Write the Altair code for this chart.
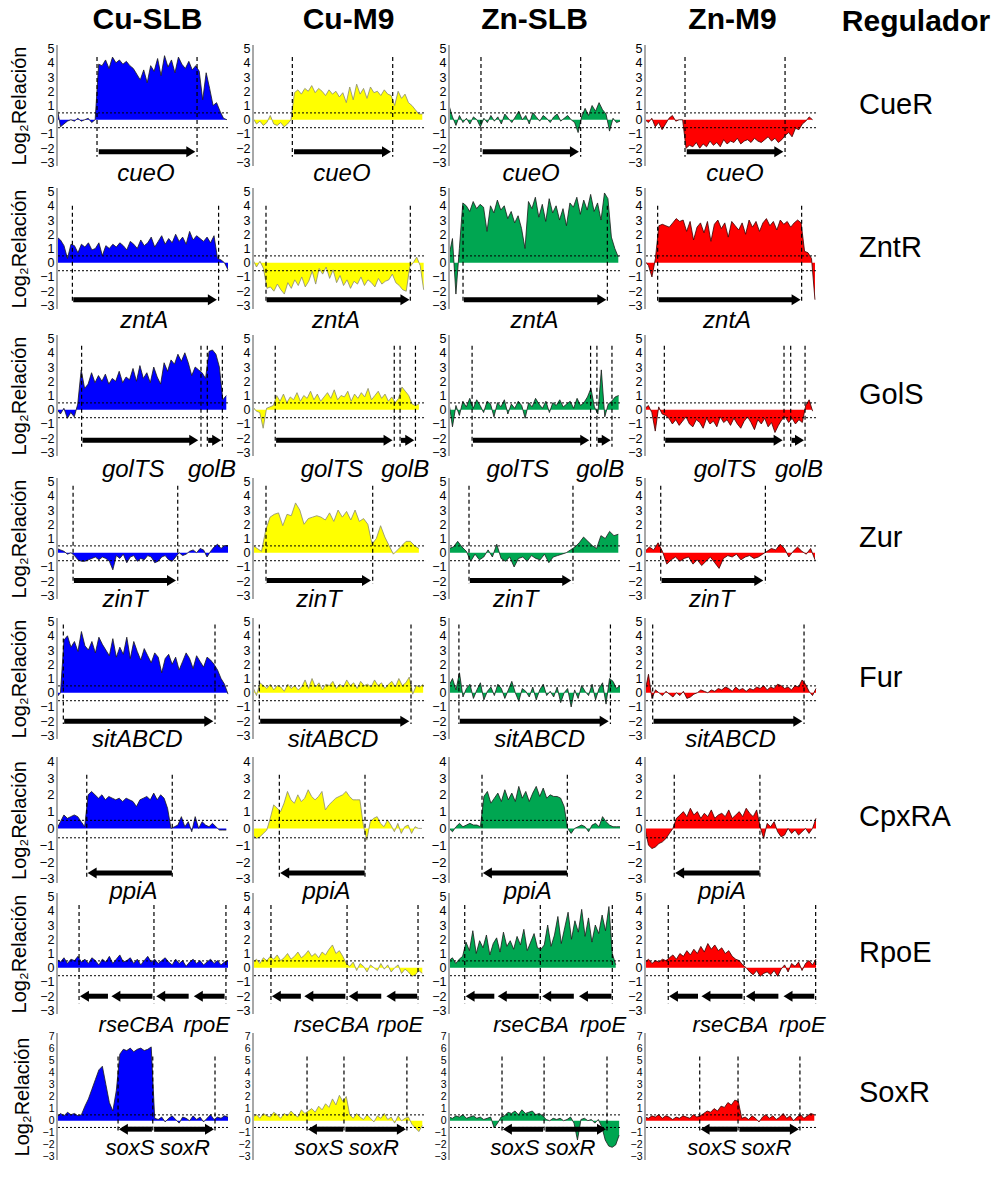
import altair as alt
import pandas as pd

FONT = "Liberation Sans"
CONDITIONS = ["Cu-SLB", "Cu-M9", "Zn-SLB", "Zn-M9"]
REGULATORS = ["CueR", "ZntR", "GolS", "Zur", "Fur", "CpxRA", "RpoE", "SoxR"]
FILL = ["#0000FF", "#FFFF00", "#00A651", "#FF0000"]
EDGE = ["#1a1a1a", "#8a8a70", "#1a1a1a", "#3a0000"]
Y_TOP = [5, 5, 5, 5, 5, 4, 5, 7]
THRESH = [0.48, -0.56]

# ---------------- series (Log2 ratio along each region) ----------------
CUER = [
    [0.9, -0.5, -0.3, -0.1, 0.0, -0.1, 0.1, -0.1, 0.0, 0.1, -0.2, 0.0,
     3.9, 3.8, 4.2, 3.6, 4.4, 4.0, 4.2, 3.9, 4.1, 3.8, 3.6, 3.2, 2.8, 3.5, 2.6, 3.8, 3.4, 4.3,
     3.1, 4.5, 3.7, 4.2, 3.3, 4.4, 3.9, 3.6, 4.1, 3.5, 3.8,
     3.4, 1.4, 3.3, 2.2, 1.0, 1.2, 0.6, 0.1, 0.0],
    [0.1, -0.3, -0.1, -0.4, -0.2, 0.3, -0.3, -0.4, -0.2, -0.5, -0.3, 0.0,
     1.9, 2.1, 1.8, 2.2, 2.0, 2.4, 1.9, 2.2, 2.0, 1.7, 2.1, 1.8, 2.0, 1.6, 1.9, 1.2, 2.3, 1.4,
     2.5, 1.8, 2.2, 1.5, 2.3, 1.9, 2.0, 1.7, 2.1, 1.8, 1.7,
     1.0, 2.0, 1.5, 1.8, 1.2, 1.0, 0.7, 0.4, 0.4],
    [1.0, 0.2, -0.4, 0.3, -0.2, 0.1, -0.3, 0.2, 0.0, -0.5, 0.1, -0.2, 0.3, -0.1, 0.2, -0.3, 0.4,
     0.1, -0.2, 0.2, 0.6, 0.0, 0.3, -0.3, 0.5, 0.2, -0.1, 0.3, 0.1, -0.2, 0.2, 0.4, -0.1, 0.1,
     0.3, 0.0, -0.2, -0.9, 0.2, 0.8, 0.3, 1.0, 0.6, 1.2, 0.7, 0.4, -0.8, 0.1, -0.2, -0.1],
    [0.0, -0.2, 0.1, -0.5, -0.2, -0.7, -0.3, 0.1, 0.3, -0.1, 0.0, 0.0,
     -2.0, -1.8, -1.9, -1.6, -2.0, -1.7, -1.9, -1.5, -1.8, -1.6, -1.9, -1.4, -1.7, -1.5, -1.6,
     -1.3, -1.7, -1.5, -1.4, -1.6, -1.3, -1.5, -1.6, -1.4, -1.2, -1.5, -1.3, -1.6, -1.4,
     -1.1, -0.9, -1.2, -0.6, -0.7, -0.3, -0.1, 0.2, 0.0],
]
ZNTR = [
    [1.8, 1.6, 1.2, 0.3, 1.3, 1.2, 0.7, 1.3, 1.1, 1.4, 0.9, 1.0, 1.4, 0.5, 1.2, 1.0, 1.3, 1.1,
     1.4, 1.2, 0.9, 1.5, 1.3, 1.0, 1.6, 1.2, 1.4, 1.8, 1.1, 1.5, 1.9, 1.3, 1.7, 1.4, 2.0, 1.5,
     1.8, 1.3, 2.2, 1.6, 1.9, 1.7, 1.5, 1.8, 1.4, 1.9, 0.3, 0.2, 0.0, -0.5],
    [0.2, -0.3, 0.1, -0.4, -1.8, -1.7, -2.0, -1.5, -1.9, -2.2, -1.4, -1.8, -1.2, -1.6, -1.0,
     -1.7, -1.3, -0.6, -1.5, -0.4, -0.8, -0.3, -1.1, -0.5, -1.4, -0.9, -1.6, -1.2, -1.8, -1.3,
     -1.5, -1.0, -1.6, -1.2, -1.4, -1.7, -1.1, -1.5, -1.3, -1.2, -0.8, -1.4, -1.6, -1.9, -2.0,
     -0.3, 0.0, 0.4, -0.2, -1.9],
    [0.5, 1.7, -2.2, 1.0, 4.2, 4.0, 3.6, 4.3, 3.8, 4.1, 3.9, 2.2, 4.0, 3.5, 4.4, 3.7, 4.0, 3.1,
     3.6, 2.8, 3.3, 2.4, 1.0, 4.3, 3.8, 4.6, 3.2, 4.1, 2.9, 4.5, 3.5, 4.0, 3.0, 3.8, 2.6, 4.2,
     3.9, 4.6, 3.4, 4.4, 3.7, 4.8, 3.6, 4.2, 3.0, 4.9, 4.5, 1.8, 1.0, 0.4],
    [0.1, -0.2, -1.0, 0.3, 2.6, 2.7, 2.6, 2.5, 2.8, 3.1, 2.9, 3.0, 2.2, 2.9, 1.6, 2.5, 2.8, 2.1,
     2.9, 1.5, 2.7, 3.0, 2.4, 2.8, 1.8, 2.9, 2.6, 2.3, 2.8, 2.0, 3.0, 2.5, 2.9, 2.2, 2.8, 3.1,
     2.6, 2.9, 2.3, 3.0, 2.7, 2.9, 2.5, 2.8, 3.0, 2.8, 0.8, 0.7, 0.3, -2.6],
]
GOLS = [
    [0.0, -0.3, 0.1, -0.6, -0.2, -0.5, 0.4, 2.8, 1.5, 1.8, 2.6, 1.9, 2.4, 2.0, 2.5, 1.8, 2.2,
     2.0, 2.7, 1.9, 2.3, 2.1, 2.9, 2.0, 3.1, 2.2, 2.6, 1.9, 3.0, 2.3, 1.8, 3.3, 2.7, 3.5, 3.2,
     3.9, 3.4, 4.0, 3.3, 2.4, 3.0, 2.8, 2.6, 2.2, 4.1, 4.2, 3.9, 3.0, 0.7, 1.0],
    [0.2, -0.1, -0.2, -1.3, 0.1, 0.2, 0.3, 1.0, 0.6, 1.1, 0.5, 0.9, 0.7, 1.2, 0.6, 1.0, 0.8,
     1.3, 0.7, 1.1, 0.6, 0.9, 1.2, 0.8, 1.4, 0.7, 1.0, 0.9, 1.3, 0.6, 1.1, 0.8, 1.2, 0.9, 1.5,
     0.7, 1.0, 1.3, 0.8, 1.1, 0.6, 0.9, 0.5, 0.8, 1.6, 1.3, 1.0, 0.4, 0.3, 0.4],
    [0.5, -1.2, 0.3, -0.4, 0.6, 0.2, 0.8, 0.1, 0.7, 0.3, -0.2, 0.6, 0.4, -0.5, 0.5, 0.2, 0.7,
     -0.3, 0.4, 0.1, 0.6, 0.3, -0.6, 0.5, 0.2, 0.8, 0.4, 0.1, 0.6, -0.2, 0.5, 0.3, 0.7, 0.2,
     0.4, 0.6, 0.1, 0.8, 0.3, 0.5, 0.9, 1.5, 0.2, -0.3, 2.8, -0.5, 0.4, 0.6, 0.9, 1.0],
    [0.1, 0.3, -0.2, -1.5, 0.2, -0.3, -0.4, -0.6, -1.0, -0.7, -1.1, -0.8, -0.5, -1.0, -1.2,
     -0.7, -0.9, -1.3, -0.6, -1.0, -0.8, -1.2, -0.5, -0.9, -0.7, -1.1, -0.6, -1.0, -1.3, -0.8,
     -0.5, -0.9, -1.4, -0.7, -1.0, -0.6, -1.2, -0.9, -1.6, -1.1, -0.7, -0.5, -0.9, -0.6, -1.0,
     -0.7, -0.9, 0.3, 0.7, -0.1],
]
ZUR = [
    [0.3, 0.2, 0.1, -0.1, 0.0, -0.2, -0.5, -0.6, -0.6, -0.5, -0.4, -0.3, -0.5, -0.3, -0.4,
     -0.6, -1.2, -0.2, -0.4, -0.1, -0.7, -0.3, -0.2, -0.6, -0.4, -0.5, -0.2, -0.3, -0.7, -0.6,
     -0.3, -0.2, -0.5, -0.6, -0.3, 0.0, -0.2, -0.1, 0.1, 0.2, 0.0, 0.3, 0.2, -0.3, 0.1, 0.4,
     0.6, 0.3, 0.5, 0.5],
    [0.5, 0.3, 0.1, 1.6, 2.5, 2.7, 2.8, 1.9, 2.7, 2.6, 3.5, 3.0, 2.0, 2.4, 2.5, 2.6, 2.5, 2.3,
     2.8, 2.2, 3.0, 2.5, 2.9, 2.3, 3.0, 2.2, 2.4, 2.0, 0.6, 1.0, 1.9, 1.1, 0.5, -0.1, 0.2, 0.5,
     0.8, 0.8, 0.5, 0.3],
    [0.3, 0.4, 0.8, 0.4, 0.1, -0.6, -0.1, -0.5, -0.3, 0.2, -0.3, 0.6, -0.4, -0.6, -0.3, -1.0,
     -0.4, -0.3, -0.6, -0.2, -0.4, -0.5, -0.1, -0.7, -0.3, -0.2, -0.1, 0.0, 0.2, 0.4, 0.7, 1.1,
     0.8, 0.5, 0.3, 1.2, 1.0, 1.5, 1.2, 1.3],
    [0.1, 0.4, 0.2, 0.7, 0.1, -0.8, -0.5, -0.3, -0.6, -0.4, -0.3, -0.8, -0.5, -0.9, -0.6, -0.3,
     -0.7, -1.1, -0.4, -0.2, -0.3, -0.1, -0.5, -0.3, -0.2, -0.4, -0.3, -0.1, 0.1, 0.3, 0.2, 0.6,
     0.3, -0.3, 0.1, 0.4, 0.1, -0.1, 0.3, -0.5],
]
FUR = [
    [-0.3, 0.0, 3.7, 4.0, 3.2, 3.6, 2.9, 4.3, 3.3, 3.0, 3.6, 2.8, 3.9, 3.4, 3.0, 2.6, 3.8, 2.5,
     3.2, 2.7, 3.9, 2.4, 3.6, 2.9, 2.3, 3.1, 2.6, 2.1, 2.8, 2.5, 1.4, 2.4, 2.7, 2.0, 2.5, 1.6,
     2.2, 2.8, 2.4, 1.7, 2.6, 2.2, 1.8, 2.5, 2.3, 2.0, 1.6, 1.0, 0.6, -0.1],
    [0.4, -0.2, 0.7, 0.5, 0.3, 0.6, 0.2, 0.5, 0.4, 0.1, 0.6, 0.3, 0.5, 0.2, 0.4, 0.9, 0.3, 1.0,
     0.4, 0.7, 0.2, 0.6, 0.5, 0.8, 0.3, 0.6, 0.4, 0.9, 0.5, 0.7, 0.3, 0.8, 0.5, 0.6, 0.4, 0.9,
     0.5, 0.7, 0.3, 0.6, 0.8, 0.4, 1.0, 0.5, 0.7, 1.1, -0.1, 0.5, 0.4, 0.6],
    [0.5, 1.0, 0.2, 1.4, -0.3, 0.3, 0.6, -0.4, 0.2, 0.7, -0.5, 0.1, 0.4, -0.2, 0.6, 0.3, -0.4,
     0.2, 0.8, 0.0, -0.6, 0.3, 0.1, -0.3, 0.4, -0.5, 0.2, 0.6, -0.2, 0.1, -0.3, 0.4, -0.7, 0.0,
     0.3, -1.0, 0.2, -0.4, 0.5, 0.1, -0.2, 0.6, -0.5, 0.3, 0.7, -0.8, 1.0, 0.8, 0.3, 0.5],
    [0.1, 1.3, -0.4, 0.2, 0.0, -0.2, 0.1, -0.1, -0.3, 0.0, -0.2, 0.1, -0.4, -0.3, -0.1, 0.0,
     0.2, 0.1, 0.0, 0.2, 0.1, 0.3, 0.2, 0.4, 0.3, 0.1, 0.4, 0.2, 0.3, 0.1, 0.3, 0.2, 0.4, 0.3,
     0.5, 0.2, 0.4, 0.3, 0.6, 0.5, 0.3, 0.4, 0.2, 0.5, 0.4, 0.9, 0.6, 0.1, -0.2, 0.3],
]
CPXRA = [
    [0.0, 0.4, 0.8, 0.6, 0.7, 0.8, 0.7, 0.4, 0.1, 2.0, 2.2, 2.0, 1.8, 2.0, 1.7, 1.9, 1.8, 1.7,
     1.8, 1.6, 1.8, 1.7, 1.6, 1.3, 1.7, 1.8, 1.9, 1.7, 2.1, 1.7, 2.0, 1.8, 1.2, 0.0, 0.1, 0.2,
     0.7, 0.1, 0.4, -0.2, 0.7, 0.0, 0.4, 0.2, 0.1, 0.3, 0.1, -0.1, -0.1, -0.1],
    [-0.4, -0.6, -0.5, -0.3, -0.1, 0.6, 1.4, 1.2, 1.0, 1.5, 2.2, 1.7, 1.5, 2.0, 1.6, 1.8, 2.3,
     1.9, 1.7, 1.9, 2.2, 1.1, 1.4, 1.6, 1.8, 1.9, 2.0, 2.2, 1.9, 1.7, 1.7, 1.7, 0.2, -0.7, 0.4,
     0.6, 0.7, 0.3, 0.1, 0.5, 0.2, -0.2, 0.3, -0.3, 0.1, 0.2, -0.3, 0.1, 0.0, 0.0],
    [0.0, -0.2, 0.1, 0.3, 0.1, 0.2, 0.3, 0.2, 0.2, 0.1, 1.9, 2.2, 1.5, 1.8, 2.1, 1.6, 2.3, 1.7,
     2.1, 1.6, 2.5, 1.8, 2.2, 1.6, 2.1, 2.5, 1.9, 2.4, 1.8, 2.0, 1.9, 1.9, 1.8, 1.3, 0.0, -0.3,
     0.0, 0.1, 0.2, 0.1, -0.2, 0.2, 0.3, 0.1, 0.7, 0.4, 0.2, 0.1, 0.1, 0.1],
    [0.0, -1.0, -1.2, -1.1, -0.9, -0.8, -0.6, -0.3, 0.0, 0.6, 0.8, 1.0, 0.7, 1.2, 0.8, 1.0, 0.6,
     0.9, 0.7, 1.1, 0.6, 0.8, 0.9, 0.7, 1.1, 0.6, 0.8, 1.0, 0.7, 1.2, 0.9, 0.7, 1.1, 0.1, -0.6,
     0.3, 0.1, 0.4, -0.2, -0.5, -0.4, 0.0, -0.3, -0.1, -0.4, -0.2, 0.0, -0.3, 0.0, 0.6],
]
RPOE = [
    [0.6, 0.4, 0.7, 0.3, 0.6, 0.5, 0.8, 0.4, 0.6, 0.3, 0.7, 0.5, 0.2, 0.6, 0.4, 0.8, 0.3, 0.6,
     0.9, 0.4, 0.5, 0.7, 0.3, 0.6, 0.2, 0.5, 0.8, 0.4, 0.6, 0.3, 0.5, 0.7, 0.4, 0.2, 0.6, 0.3,
     0.5, 0.1, 0.4, 0.6, 0.3, 0.5, 0.2, 0.4, 0.6, 0.3, 0.5, 0.2, 0.4, 0.5],
    [0.4, 0.6, 0.3, 0.7, 0.5, 0.8, 0.6, 0.9, 0.5, 0.7, 1.0, 0.6, 0.8, 1.1, 0.7, 0.9, 1.2, 0.8,
     1.0, 0.7, 1.1, 0.9, 1.3, 1.6, 1.0, 1.2, 0.8, 0.3, 0.1, 0.4, -0.2, 0.3, 0.1, -0.3, 0.2, 0.0,
     -0.2, 0.3, -0.1, 0.2, -0.3, 0.0, 0.2, -0.4, -0.1, -0.3, -0.6, -0.5, -0.2, -0.4],
    [0.5, 0.7, 0.3, 0.6, 0.8, 1.8, 1.2, 2.6, 1.0, 1.9, 1.4, 2.3, 0.9, 1.7, 2.1, 1.1, 2.5, 1.5,
     1.9, 1.3, 2.2, 1.6, 2.7, 1.2, 1.8, 2.4, 1.4, 1.3, 1.6, 3.0, 1.5, 2.3, 3.6, 1.7, 2.8, 3.9,
     2.0, 3.3, 2.5, 4.1, 2.2, 3.5, 1.8, 3.0, 2.4, 3.7, 2.6, 4.3, 1.0, 0.2],
    [0.4, 0.6, 0.3, 0.5, 0.4, 0.6, 0.5, 0.7, 0.9, 0.6, 1.0, 0.8, 1.2, 0.9, 1.3, 1.0, 1.5, 1.1,
     1.7, 1.3, 1.6, 1.2, 1.4, 1.0, 1.2, 0.8, 0.6, 0.5, 0.2, 0.0, -0.3, -0.5, -0.2, -0.6, -0.4,
     -0.3, -0.5, -0.2, -0.6, -0.1, 0.2, -0.3, 0.3, 0.1, 0.4, -0.2, 0.3, 0.5, 0.2, 0.6],
]
SOXR = [
    [0.3, 0.6, 0.4, 0.7, 0.5, 0.6, 0.4, 0.5, 1.2, 1.8, 2.6, 3.4, 4.2, 4.5, 3.0, 1.5, 0.8, 2.5,
     5.5, 5.9, 5.8, 6.0, 5.7, 5.9, 6.0, 5.8, 5.9, 6.1, 0.2, 0.1, 0.3, -0.1, 0.2, 0.4, 0.1, -0.2,
     0.3, 0.2, 0.0, 0.4, 0.1, 0.3, -0.1, 0.2, 0.5, 0.1, 0.3, 0.2, 0.4, 0.3],
    [0.3, 0.5, 0.2, 0.6, 0.4, 0.3, 0.7, 0.5, 0.2, 0.6, 0.4, 0.8, 0.5, 0.3, 0.9, 0.6, 0.8, 1.0,
     0.7, 1.2, 0.9, 1.4, 1.1, 1.8, 1.3, 2.1, 1.6, 2.0, 0.5, 0.2, 0.6, 0.3, 0.1, 0.5, 0.2, -0.1,
     0.4, 0.2, 0.6, 0.1, 0.3, -0.2, 0.4, 0.0, 0.2, 0.3, -0.3, -0.6, -0.9, -0.4],
    [0.3, 0.2, 0.4, 0.3, 0.5, 0.2, 0.3, 0.4, 0.2, 0.3, 0.1, 0.2, 0.3, -0.6, -0.2, 0.3, 0.4, 0.7,
     0.6, 0.8, 0.5, 0.9, 0.6, 0.7, 0.8, 0.5, 0.6, 0.4, 0.1, 0.0, 0.2, 0.1, 0.2, 0.0, 0.1, 0.3,
     -0.2, -1.6, 0.1, 0.2, 0.0, 0.1, -0.2, 0.1, -0.5, -1.6, -2.1, -2.2, -2.0, -1.2],
    [0.3, 0.2, 0.4, 0.3, 0.5, 0.2, 0.4, 0.3, 0.1, 0.3, 0.2, 0.4, 0.3, 0.2, 0.5, 0.3, 0.4, 0.6,
     0.8, 0.7, 1.0, 0.8, 1.2, 1.1, 1.5, 1.3, 1.7, 1.6, 0.2, 0.3, 0.1, 0.4, 0.2, -0.1, 0.3, 0.5,
     0.2, 0.4, 0.1, 0.3, 0.6, 0.2, 0.4, 0.0, 0.3, 0.5, 0.2, 0.4, 0.6, 0.5],
]
SERIES = [CUER, ZNTR, GOLS, ZUR, FUR, CPXRA, RPOE, SOXR]

# right end of each measured region (x in 0..100 of panel)
XEND = [
    [99.4, 99, 100, 98], [100, 99.8, 99, 99.4], [99, 97, 99.2, 98], [100, 97, 99, 99.4],
    [100, 99.5, 100, 100], [99, 98.8, 100, 100], [100, 99, 97.5, 100], [100, 99, 99.5, 99],
]
# gene boundaries (dashed lines)
BOUNDS = [
    [[23.4, 81.9], [23, 81.7], [18.7, 77], [23.4, 81.9]],
    [[9, 94.5], [7.6, 92], [8.2, 92.6], [7.4, 91.6]],
    [[14.4, 84.2, 87.9, 96.7], [13, 82.6, 86, 95], [13.5, 82.8, 86.5, 95.3], [11.3, 81.3, 85.2, 93.6]],
    [[9.4, 70.6], [7.6, 70], [11.7, 72.5], [9.2, 70.4]],
    [[3.7, 92.4], [3.7, 92.4], [5.8, 94.4], [4.5, 93]],
    [[17.4, 67.4], [15.4, 65.5], [19.3, 69.2], [17.1, 67.2]],
    [[12.9, 56.7, 98.8], [10.5, 55, 96.5], [9.2, 53.4, 95.5], [13.6, 58, 99.8]],
    [[35.7, 56, 92.4], [31.6, 53.2, 90], [31, 55.6, 92.4], [32, 54.4, 90.6]],
]
# gene arrows: (start, end, direction)
ARROWS = [
    [[(24.4, 80.9, "r")], [(24, 80.7, "r")], [(19.7, 76, "r")], [(24.4, 80.9, "r")]],
    [[(9.5, 93.5, "r")], [(8, 91.5, "r")], [(8.7, 92, "r")], [(7.9, 91, "r")]],
    [[(14.9, 82.6, "r"), (88.4, 96, "r")], [(13.5, 81.6, "r"), (86.5, 94.3, "r")],
     [(14, 82, "r"), (87, 94.6, "r")], [(11.8, 80.5, "r"), (85.7, 93, "r")]],
    [[(9.9, 69.6, "r")], [(8, 69, "r")], [(12.2, 71.5, "r")], [(9.7, 69.2, "r")]],
    [[(4.2, 91.4, "r")], [(4.2, 91.4, "r")], [(6.3, 93.4, "r")], [(5, 92, "r")]],
    [[(17.9, 67.2, "l")], [(15.9, 65.3, "l")], [(19.8, 69, "l")], [(17.6, 67, "l")]],
    [[(13.4, 29.8, "l"), (31.8, 55.8, "l"), (58, 77, "l"), (80, 98, "l")],
     [(11, 28, "l"), (30, 54, "l"), (56, 75, "l"), (78, 96, "l")],
     [(9.7, 26.5, "l"), (28.5, 52.5, "l"), (54.5, 73, "l"), (76, 95, "l")],
     [(14, 31, "l"), (33, 57, "l"), (59, 78, "l"), (81, 99, "l")]],
    [[(36.2, 55.5, "l"), (56.8, 91.8, "r")], [(32.1, 52.7, "l"), (54, 89.4, "r")],
     [(31.5, 55, "l"), (56.4, 91.8, "r")], [(32.5, 53.9, "l"), (55.2, 90, "r")]],
]
# gene names: (name, x centre)
GENES = [
    [[("cueO", 52)], [("cueO", 52)], [("cueO", 48)], [("cueO", 52.6)]],
    [[("zntA", 51)], [("zntA", 48.5)], [("zntA", 50)], [("zntA", 48)]],
    [[("golTS", 44.6), ("golB", 90.6)], [("golTS", 46.2), ("golB", 89)],
     [("golTS", 40.3), ("golB", 88.4)], [("golTS", 46.8), ("golB", 90)]],
    [[("zinT", 39.8)], [("zinT", 38.6)], [("zinT", 39)], [("zinT", 39)]],
    [[("sitABCD", 47)], [("sitABCD", 46.8)], [("sitABCD", 53)], [("sitABCD", 50)]],
    [[("ppiA", 44.7)], [("ppiA", 43)], [("ppiA", 46)], [("ppiA", 45)]],
    [[("rseCBA", 46.5), ("rpoE", 87.5)], [("rseCBA", 46), ("rpoE", 86)],
     [("rseCBA", 48), ("rpoE", 90)], [("rseCBA", 50), ("rpoE", 92)]],
    [[("soxS", 42.7), ("soxR", 74.7)], [("soxS", 38.6), ("soxR", 70.6)],
     [("soxS", 38.6), ("soxR", 71)], [("soxS", 39), ("soxR", 71)]],
]

# ---------------- styling / layout constants ----------------
DASH_TOP = [4.4, 4.0, 4.5, 4.7, 4.8, 3.2, 4.4, 5.3]
DASH_BOT = [-2.6, -2.85, -2.6, -2.2, -2.2, -2.9, -2.5, -1.0]
ARROW_Y = [-2.25, -2.6, -2.15, -1.95, -2.0, -2.65, -2.0, -0.7]
LABEL_Y = [-3.8, -4.1, -4.2, -3.35, -3.35, -3.8, -4.0, -2.25]
GENE_FONT = [24, 24, 24, 24, 24, 24, 22, 22]
TICK_FONT = [12.5, 12.5, 12.5, 12.5, 12.5, 13, 12.5, 10.5]
PANEL_W = 171
AXIS_H = [121, 121, 121, 121, 121, 126, 121, 127]     # pixels for the labelled y range
ROW_TOPS = [49, 192, 339, 482, 622, 761, 897, 1037]   # desired panel tops
ROW_GAP = 10
COL_GAP = 25
TITLE_DX = [5, 10, 0, 2]
HEAD = 4.0
PATH_R = "M0,0L-1.8,-1.1L-1.8,1.1Z"
PATH_L = "M0,0L1.8,-1.1L1.8,1.1Z"


def row_geometry(r):
    top = Y_TOP[r] + 0.25
    span = Y_TOP[r] + 3.5
    ppu = AXIS_H[r] / span
    if r + 1 < len(ROW_TOPS):
        h = ROW_TOPS[r + 1] - ROW_TOPS[r] - ROW_GAP
    else:
        h = AXIS_H[r]
    lo = -3.25 - (h - AXIS_H[r]) / ppu
    return lo, top, h


def panel(r, c):
    vals = SERIES[r][c]
    n = len(vals)
    xe = XEND[r][c]
    df = pd.DataFrame({"x": [xe * i / (n - 1) for i in range(n)], "v": vals})
    lo, top, h = row_geometry(r)
    ys = alt.Scale(domain=[lo, top], nice=False, zero=False)
    xs = alt.Scale(domain=[0, 100], nice=False, zero=False)

    ax = dict(values=list(range(-3, Y_TOP[r] + 1)), ticks=False, grid=False, domain=False,
              labelFont=FONT, labelFontSize=TICK_FONT[r], labelColor="black", labelPadding=3,
              labelOverlap=False)
    if c == 0:
        ax.update(title="Log₂Relación", titleFont=FONT, titleFontSize=20,
                  titleFontWeight="normal", titleColor="black", titlePadding=10,
                  titleY=AXIS_H[r] / 2)
    else:
        ax["title"] = ""
    yaxis = alt.Axis(**ax)

    def X(f):
        return alt.X(f, scale=xs, axis=None)

    def Y(f):
        return alt.Y(f, scale=ys, axis=yaxis)

    area = alt.Chart(df).mark_area(color=FILL[c], opacity=1).encode(
        x=X("x:Q"), y=Y("v:Q"), y2=alt.datum(0))
    line = alt.Chart(df).mark_line(color=EDGE[c], strokeWidth=0.8).encode(
        x=X("x:Q"), y=Y("v:Q"))
    axdf = pd.DataFrame({"x0": [0], "a0": [-3.25], "a1": [top]})
    axline = alt.Chart(axdf).mark_rule(color="#a8a8a8", strokeWidth=2).encode(
        x=X("x0:Q"), y=Y("a0:Q"), y2="a1:Q")
    thr = alt.Chart(pd.DataFrame({"t": THRESH})).mark_rule(
        color="black", strokeWidth=1, strokeDash=[2, 2]).encode(y=Y("t:Q"))
    bdf = pd.DataFrame({"b": BOUNDS[r][c]})
    bdf["top"] = DASH_TOP[r]
    bdf["bot"] = DASH_BOT[r]
    dash = alt.Chart(bdf).mark_rule(color="black", strokeWidth=1.2, strokeDash=[4, 3]).encode(
        x=X("b:Q"), y=Y("top:Q"), y2="bot:Q")
    arows = []
    for s, e, d in ARROWS[r][c]:
        if d == "r":
            arows.append({"bs": s, "be": e - HEAD, "tip": e, "d": d, "ay": ARROW_Y[r]})
        else:
            arows.append({"bs": s + HEAD, "be": e, "tip": s, "d": d, "ay": ARROW_Y[r]})
    adf = pd.DataFrame(arows)
    body = alt.Chart(adf).mark_rule(color="black", strokeWidth=5).encode(
        x=X("bs:Q"), x2="be:Q", y=Y("ay:Q"))
    head = alt.Chart(adf).mark_point(filled=True, size=100, color="black", opacity=1,
                                     strokeWidth=0).encode(
        x=X("tip:Q"), y=Y("ay:Q"),
        shape=alt.Shape("d:N", scale=alt.Scale(domain=["r", "l"], range=[PATH_R, PATH_L]),
                        legend=None))
    gdf = pd.DataFrame({"name": [g[0] for g in GENES[r][c]], "gx": [g[1] for g in GENES[r][c]]})
    gdf["gy"] = LABEL_Y[r]
    genes = alt.Chart(gdf).mark_text(font=FONT, fontStyle="italic", fontSize=GENE_FONT[r],
                                     color="black").encode(
        x=X("gx:Q"), y=Y("gy:Q"), text="name:N")
    props = dict(width=PANEL_W, height=h)
    if r == 0:
        props["title"] = alt.TitleParams(text=CONDITIONS[c], font=FONT, fontSize=30,
                                         fontWeight="bold", color="black", anchor="middle",
                                         frame="group", offset=8, dx=TITLE_DX[c])
    return alt.layer(area, line, axline, thr, dash, body, head, genes).properties(**props)


def label_panel(r):
    lo, top, h = row_geometry(r)
    ch = alt.Chart(pd.DataFrame({"t": [REGULATORS[r]]})).mark_text(
        font=FONT, fontSize=29, align="left", baseline="middle", color="black").encode(
        text="t:N", x=alt.value(18), y=alt.value(60))
    props = dict(width=150, height=h)
    if r == 0:
        props["title"] = alt.TitleParams(text="Regulador", font=FONT, fontSize=30,
                                         fontWeight="bold", color="black", anchor="middle",
                                         frame="group", offset=8)
    return ch.properties(**props)


cells = []
for r in range(len(REGULATORS)):
    for c in range(4):
        cells.append(panel(r, c))
    cells.append(label_panel(r))

chart = alt.concat(*cells, columns=5, spacing={"row": ROW_GAP, "column": COL_GAP},
                   bounds="flush")

chart = chart.properties(
    padding={"left": 8, "top": 4, "right": 0, "bottom": 0}, background="white"
).configure_view(stroke="transparent")

chart.save("out.html", embed_options={"renderer": "svg", "actions": False})
